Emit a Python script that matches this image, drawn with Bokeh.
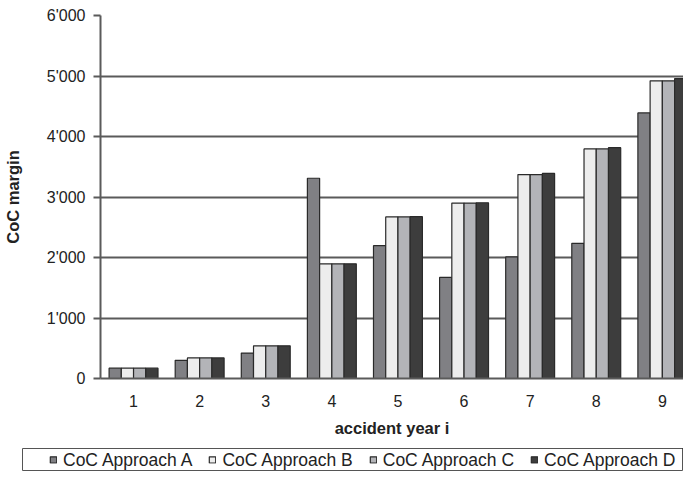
from bokeh.plotting import figure
from bokeh.layouts import column, row
from bokeh.models import Range1d, FixedTicker, Legend, LegendItem, ColumnDataSource
from bokeh.embed import file_html
from bokeh.resources import INLINE

# ---- data ----
years = [1, 2, 3, 4, 5, 6, 7, 8, 9]
year_labels = ["1", "2", "3", "4", "5", "6", "7", "8", "9"]
approach_a = [170, 300, 420, 3310, 2195, 1670, 2010, 2235, 4390]
approach_b = [170, 340, 540, 1895, 2670, 2900, 3370, 3795, 4920]
approach_c = [170, 340, 540, 1895, 2670, 2900, 3370, 3795, 4920]
approach_d = [170, 340, 540, 1895, 2675, 2905, 3390, 3815, 4955]
series_names = ["CoC Approach A", "CoC Approach B", "CoC Approach C", "CoC Approach D"]
y_ticks = [0, 1000, 2000, 3000, 4000, 5000, 6000]
y_tick_labels = ["0", "1'000", "2'000", "3'000", "4'000", "5'000", "6'000"]

series = [approach_a, approach_b, approach_c, approach_d]
colors = ["#808084", "#ededed", "#b3b4b8", "#3d3d3d"]
offsets = [-0.2775, -0.0925, 0.0925, 0.2775]
bar_w = 0.185
edge = "#2a2a2a"

FONT = "Liberation Sans"
W = 683

# ---- main chart ----
p = figure(width=W, height=448, output_backend="svg", toolbar_location=None,
           x_range=Range1d(0.5, 9.32), y_range=Range1d(0, 6000),
           min_border_left=98, min_border_top=15, min_border_right=0, min_border_bottom=70)
p.outline_line_color = None
p.background_fill_color = "white"
p.border_fill_color = "white"

sources = []
for name, vals, col, off in zip(series_names, series, colors, offsets):
    src = ColumnDataSource(dict(x=[y + off for y in years], top=vals))
    sources.append(src)
    p.vbar(x="x", top="top", width=bar_w, bottom=0, source=src,
           fill_color=col, line_color=edge, line_width=1.2)

p.xaxis.ticker = FixedTicker(ticks=years)
p.xaxis.major_label_overrides = {y: l for y, l in zip(years, year_labels)}
p.yaxis.ticker = FixedTicker(ticks=y_ticks)
p.yaxis.major_label_overrides = {t: l for t, l in zip(y_ticks, y_tick_labels)}

for ax in (p.xaxis[0], p.yaxis[0]):
    ax.axis_line_color = "#5a5a5a"
    ax.axis_line_width = 2
    ax.major_label_text_font = FONT
    ax.major_label_text_font_size = "16px"
    ax.major_label_text_color = "#222222"
    ax.axis_label_text_font = FONT
    ax.axis_label_text_font_size = "16.5px"
    ax.axis_label_text_font_style = "bold"
    ax.axis_label_text_color = "#222222"
    ax.minor_tick_line_color = None

p.xaxis.major_tick_line_color = None
p.xaxis.major_tick_out = 0
p.xaxis.major_tick_in = 0
p.xaxis.major_label_standoff = 16
p.xaxis.axis_label = "accident year i"
p.xaxis.axis_label_standoff = 9

p.yaxis.major_tick_line_color = "#5a5a5a"
p.yaxis.major_tick_line_width = 2
p.yaxis.major_tick_out = 7
p.yaxis.major_tick_in = 0
p.yaxis.major_label_standoff = 8
p.yaxis.axis_label = "CoC margin"
p.yaxis.axis_label_standoff = 22

p.xgrid.grid_line_color = None
p.ygrid.grid_line_color = "#5a5a5a"
p.ygrid.grid_line_width = 2

# ---- legend strip (same series, drawn out of view; only the legend shows) ----
p2 = figure(width=W, height=23, output_backend="svg", toolbar_location=None,
            x_axis_type=None, y_axis_type=None,
            x_range=Range1d(-3, -2), y_range=Range1d(-3, -2),
            min_border_left=22, min_border_top=0, min_border_right=0, min_border_bottom=0)
p2.outline_line_color = "#555555"
p2.outline_line_width = 1
p2.background_fill_color = "white"
p2.border_fill_color = "white"

items = []
for name, src, col in zip(series_names, sources, colors):
    r = p2.vbar(x="x", top="top", width=bar_w, bottom=0, source=src,
                fill_color=col, line_color=edge, line_width=1.2)
    items.append(LegendItem(label=name, renderers=[r]))

legend = Legend(items=items, orientation="horizontal", location="center_left",
                label_text_font=FONT, label_text_font_size="17.5px", label_text_color="#222222",
                glyph_width=8, glyph_height=8, label_standoff=6, spacing=16,
                padding=0, margin=27, border_line_color=None,
                background_fill_alpha=0.0)
p2.add_layout(legend, "center")

layout = column(p, row(p2), spacing=0)
open("out.html", "w").write(file_html(layout, INLINE))
